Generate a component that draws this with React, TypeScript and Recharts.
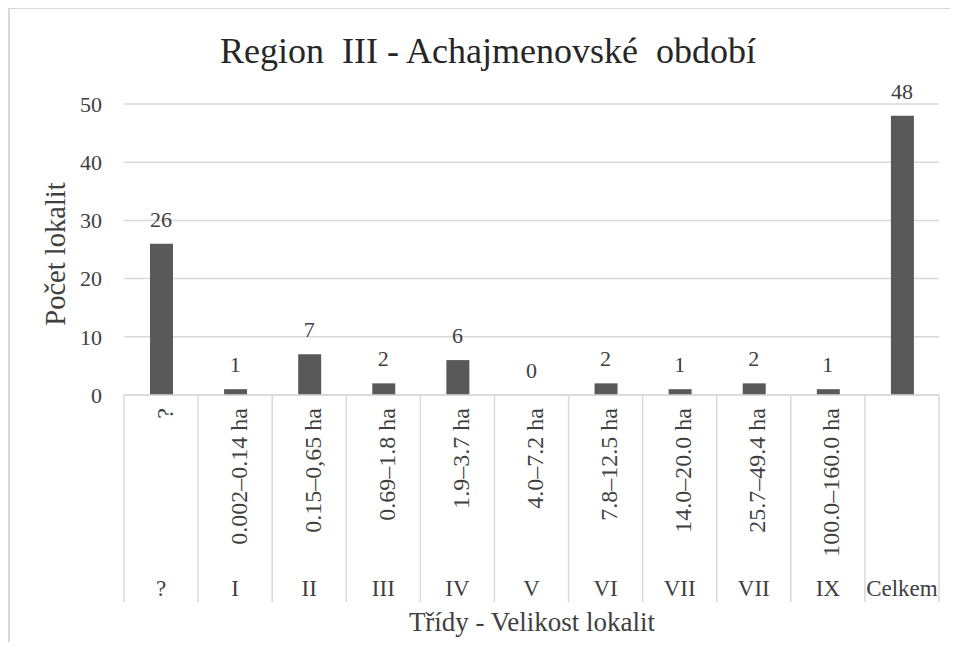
import React from "react";
import { ComposedChart, Bar, Line, XAxis, YAxis, CartesianGrid, LabelList } from "recharts";

const classes = ["?", "I", "II", "III", "IV", "V", "VI", "VII", "VII", "IX", "Celkem"];
const sizes = [
  "?",
  "0.002–0.14 ha",
  "0.15–0,65 ha",
  "0.69–1.8 ha",
  "1.9–3.7 ha",
  "4.0–7.2 ha",
  "7.8–12.5 ha",
  "14.0–20.0 ha",
  "25.7–49.4 ha",
  "100.0–160.0 ha",
  "",
];
const counts = [26, 1, 7, 2, 6, 0, 2, 1, 2, 1, 48];
const yTicks = [0, 10, 20, 30, 40, 50];

const data = classes.map((cls, i) => ({ key: `${i}-${cls}`, cls, size: sizes[i], count: counts[i] }));

const FONT = '"Liberation Serif", "Times New Roman", serif';
const GRID = "#d9d9d9";
const TEXT = "#404040";
const PLOT_LEFT = 124;
const PLOT_RIGHT = 939;
const BAND = (PLOT_RIGHT - PLOT_LEFT) / classes.length;

const txt = (size: number, color = TEXT) => ({ fontFamily: FONT, fontSize: size, fill: color });

function CategoryTick(props: any) {
  const { x, y, payload } = props;
  const i = payload.index;
  return (
    <g>
      <line x1={x - BAND / 2} x2={x - BAND / 2} y1={y} y2={y + 207} stroke={GRID} strokeWidth={1.5} />
      {i === classes.length - 1 && (
        <line x1={x + BAND / 2} x2={x + BAND / 2} y1={y} y2={y + 207} stroke={GRID} strokeWidth={1.5} />
      )}
      {sizes[i] && (
        <text transform={`translate(${x}, ${y + 13}) rotate(-90)`} textAnchor="end" dy={11.5} style={txt(24)}>
          {sizes[i]}
        </text>
      )}
      <text x={x} y={y + 201} textAnchor="middle" style={txt(23)}>
        {classes[i]}
      </text>
    </g>
  );
}

// labels sit on an invisible line so that the zero-height bar also gets one
const renderValue = (props: any) => {
  const { x, y, value } = props;
  return (
    <text x={x} y={y - 17} textAnchor="middle" style={txt(22)}>
      {String(value)}
    </text>
  );
};

export default function App() {
  return (
    <div style={{ position: "relative", width: 958, height: 650, margin: -8 }}>
      <div
        style={{
          position: "absolute",
          left: 8,
          top: 7,
          width: 950,
          height: 658,
          borderLeft: `2px solid ${GRID}`,
          borderTop: `2px solid ${GRID}`,
          boxSizing: "border-box",
        }}
      />
      <svg style={{ position: "absolute", left: 0, top: 0 }} width={958} height={100}>
        <text x={488} y={63} textAnchor="middle" style={txt(36, "#262626")} xmlSpace="preserve">
          Region  III - Achajmenovské  období
        </text>
      </svg>
      <div style={{ position: "absolute", left: 0, top: 0 }}>
        <ComposedChart
          width={958}
          height={666}
          data={data}
          margin={{ top: 104, right: 958 - PLOT_RIGHT, bottom: 41, left: 0 }}
          barSize={23}
        >
          <CartesianGrid vertical={false} stroke={GRID} strokeWidth={1.5} />
          <XAxis
            dataKey="key"
            interval={0}
            height={230}
            tickLine={false}
            tickSize={0}
            tickMargin={0}
            axisLine={{ stroke: GRID, strokeWidth: 1.5 }}
            tick={(p: any) => <CategoryTick {...p} />}
            label={{
              content: () => (
                <text x={532} y={631} textAnchor="middle" style={txt(27)}>
                  Třídy - Velikost lokalit
                </text>
              ),
            }}
          />
          <YAxis
            width={PLOT_LEFT}
            domain={[0, 50]}
            ticks={yTicks}
            axisLine={false}
            tickLine={false}
            tickSize={0}
            tickMargin={22}
            tick={txt(22)}
            label={{
              content: () => (
                <text x={65} y={254} transform="rotate(-90, 65, 254)" textAnchor="middle" style={txt(28.5)}>
                  Počet lokalit
                </text>
              ),
            }}
          />
          <Bar dataKey="count" fill="#595959" isAnimationActive={false} />
          <Line
            dataKey="count"
            stroke="none"
            dot={false}
            activeDot={false}
            legendType="none"
            isAnimationActive={false}
          >
            <LabelList dataKey="count" content={renderValue} />
          </Line>
        </ComposedChart>
      </div>
    </div>
  );
}
